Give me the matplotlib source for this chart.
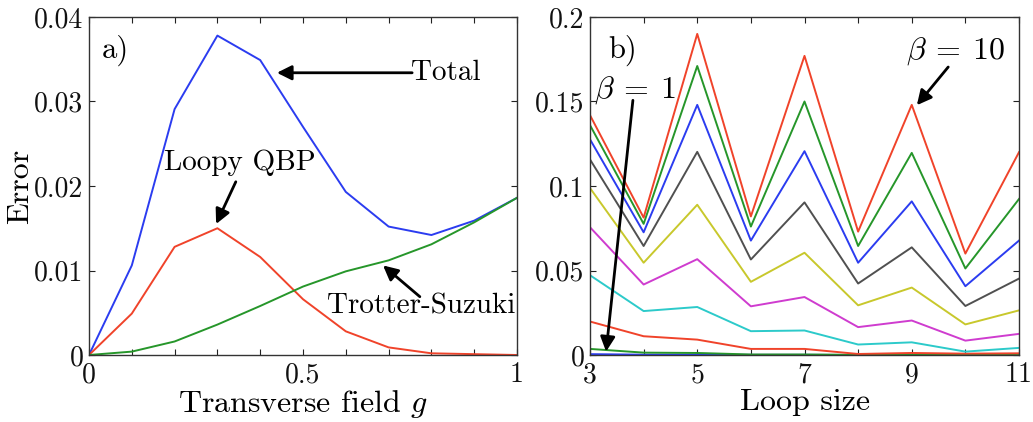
import matplotlib
matplotlib.use("Agg")
import matplotlib.pyplot as plt
import numpy as np

plt.rcParams['font.family'] = ['cmr10']
plt.rcParams['mathtext.fontset'] = 'cm'
plt.rcParams['axes.unicode_minus'] = False
plt.rcParams['axes.formatter.use_mathtext'] = True

# ---- Panel a) data ----
g = [0.0, 0.1, 0.2, 0.3, 0.4, 0.5, 0.6, 0.7, 0.8, 0.9, 1.0]
total = [0.0, 0.0106, 0.0291, 0.0378, 0.0349, 0.0270, 0.0193, 0.0152, 0.0142, 0.0159, 0.0186]
loopy = [0.0, 0.0049, 0.0128, 0.0150, 0.0116, 0.0066, 0.0028, 0.0009, 0.0002, 0.0001, 0.0]
trotter = [0.0, 0.0004, 0.0016, 0.0036, 0.0058, 0.0081, 0.0099, 0.0112, 0.0131, 0.0157, 0.0186]

# ---- Panel b) data ----
loop_size = [3, 4, 5, 6, 7, 8, 9, 10, 11]
betas = [1, 2, 3, 4, 5, 6, 7, 8, 9, 10]
err_b1 = [0.0005, 0.0002, 0.0002, 0.0001, 0.0001, 0.0, 0.0, 0.0, 0.0]
err_b2 = [0.0036, 0.0014, 0.0012, 0.0003, 0.0003, 0.0001, 0.0001, 0.0, 0.0]
err_b3 = [0.0198, 0.0111, 0.0091, 0.0036, 0.0036, 0.0006, 0.0012, 0.0008, 0.0010]
err_b4 = [0.0472, 0.0260, 0.0284, 0.0141, 0.0145, 0.0062, 0.0075, 0.0020, 0.0042]
err_b5 = [0.0756, 0.0417, 0.0567, 0.0288, 0.0343, 0.0165, 0.0204, 0.0085, 0.0125]
err_b6 = [0.0988, 0.0546, 0.0889, 0.0433, 0.0605, 0.0294, 0.0399, 0.0181, 0.0264]
err_b7 = [0.1157, 0.0645, 0.1202, 0.0565, 0.0903, 0.0423, 0.0637, 0.0290, 0.0452]
err_b8 = [0.1276, 0.0726, 0.1480, 0.0677, 0.1206, 0.0546, 0.0909, 0.0407, 0.0677]
err_b9 = [0.1360, 0.0776, 0.1710, 0.0760, 0.1500, 0.0645, 0.1196, 0.0512, 0.0923]
err_b10 = [0.1419, 0.0813, 0.1900, 0.0820, 0.1770, 0.0730, 0.1480, 0.0600, 0.1200]
errs = [err_b1, err_b2, err_b3, err_b4, err_b5, err_b6, err_b7, err_b8, err_b9, err_b10]

BLUE = '#2b3cf0'
GREEN = '#26962a'
RED = '#f0432a'
CYAN = '#2ccaca'
MAGENTA = '#cf3ccf'
YELLOW = '#c8c82c'
GRAY = '#505050'
cycle = [BLUE, GREEN, RED, CYAN, MAGENTA, YELLOW, GRAY, BLUE, GREEN, RED]

FS = 20      # tick labels
FSL = 23     # axis labels
FSA = 21     # annotation texts
LW = 1.4

fig = plt.figure(figsize=(10.33, 4.22), dpi=100)
W, H = 1033, 422
ax1 = fig.add_axes([89 / W, 1 - 355 / H, (517 - 89) / W, (355 - 17) / H])
ax2 = fig.add_axes([590 / W, 1 - 355 / H, (1019 - 590) / W, (355 - 17) / H])

for ax in (ax1, ax2):
    ax.tick_params(direction='in', length=4, width=0.8, top=True, right=True,
                   labelsize=FS, pad=4, colors='#222222', labelcolor='#111111')
    for s in ax.spines.values():
        s.set_linewidth(1.0)
        s.set_color('#333333')

# Panel a
ax1.plot(g, total, color=BLUE, lw=LW)
ax1.plot(g, loopy, color=RED, lw=LW)
ax1.plot(g, trotter, color=GREEN, lw=LW)
ax1.set_xlim(0, 1)
ax1.set_ylim(0, 0.04)
ax1.set_xticks(g)
ax1.set_xticklabels(['0', '', '', '', '', '0.5', '', '', '', '', '1'])
ax1.set_yticks([0, 0.01, 0.02, 0.03, 0.04])
ax1.set_yticklabels(['0', '0.01', '0.02', '0.03', '0.04'])
ax1.tick_params(axis='x', pad=5)
ax1.set_xlabel(r'Transverse field $g$', fontsize=FSL, labelpad=0)
ax1.set_ylabel('Error', fontsize=FSL, labelpad=0)

ap = dict(arrowstyle='-|>', lw=2.0, color='k', mutation_scale=22, shrinkA=0, shrinkB=0)
ax1.text(0.03, 0.036, 'a)', fontsize=22, va='center', ha='left')
ax1.annotate('', xy=(0.439, 0.0334), xytext=(0.755, 0.0334), arrowprops=ap)
ax1.text(0.752, 0.0334, 'Total', fontsize=FSA, va='center', ha='left')
ax1.text(0.352, 0.0227, 'Loopy QBP', fontsize=FSA, va='center', ha='center')
ax1.annotate('', xy=(0.297, 0.0155), xytext=(0.343, 0.0205), arrowprops=ap)
ax1.text(0.776, 0.0058, 'Trotter-Suzuki', fontsize=FSA, va='center', ha='center')
ax1.annotate('', xy=(0.687, 0.0106), xytext=(0.773, 0.0069), arrowprops=ap)

# Panel b
for b, e, c in zip(betas, errs, cycle):
    ax2.plot(loop_size, e, color=c, lw=LW)
ax2.set_xlim(3, 11)
ax2.set_ylim(0, 0.2)
ax2.set_xticks(loop_size)
ax2.set_xticklabels([str(v) if v % 2 == 1 else '' for v in loop_size])
ax2.set_yticks([0, 0.05, 0.1, 0.15, 0.2])
ax2.set_yticklabels(['0', '0.05', '0.1', '0.15', '0.2'])
ax2.tick_params(axis='x', pad=5)
ax2.set_xlabel('Loop size', fontsize=FSL, labelpad=0)

ax2.text(3.34, 0.180, 'b)', fontsize=22, va='center', ha='left')
ax2.text(9.81, 0.1797, r'$\beta\:=\:10$', fontsize=FSL, va='center', ha='center')
ax2.annotate('', xy=(9.095, 0.1478), xytext=(9.68, 0.1704), arrowprops=ap)
ax2.text(3.84, 0.157, r'$\beta\:=\:1$', fontsize=FSL, va='center', ha='center')
ax2.annotate('', xy=(3.30, 0.002), xytext=(3.80, 0.1507), arrowprops=ap)

fig.savefig('out.png', dpi=100)
